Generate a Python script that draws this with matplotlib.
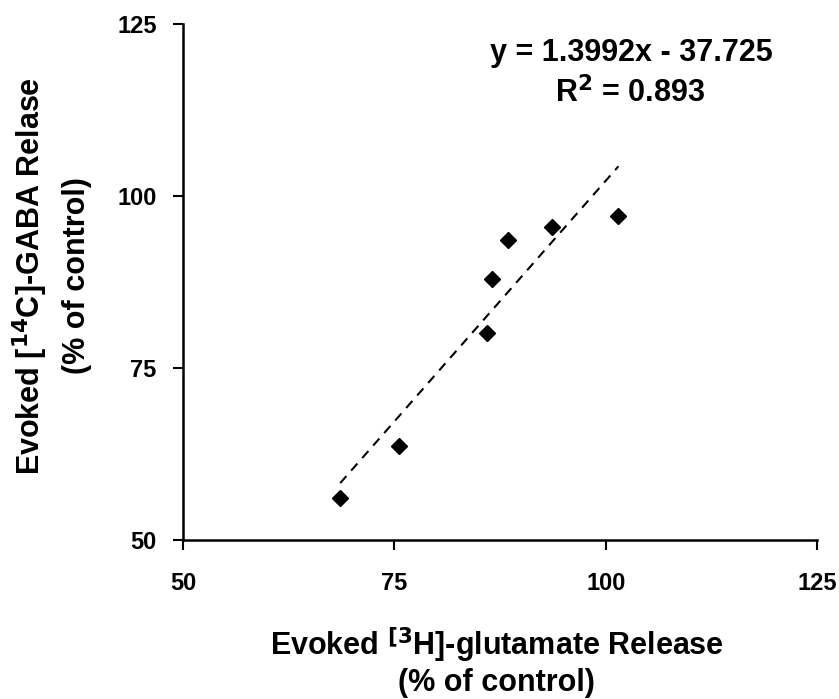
import numpy as np
import matplotlib.pyplot as plt

# evoked release, % of control
glutamate = [68.6, 75.6, 85.9, 86.6, 88.4, 93.6, 101.5]
gaba = [56.1, 63.6, 80.1, 87.9, 93.6, 95.4, 97.1]

slope = 1.3992
intercept = -37.725
r_squared = 0.893

xticks = [50, 75, 100, 125]
yticks = [50, 75, 100, 125]

plt.rcParams['font.family'] = ['Liberation Sans', 'DejaVu Sans']
plt.rcParams['font.weight'] = 'bold'

fig = plt.figure(figsize=(8.39, 6.99), dpi=100)
ax = fig.add_axes([0.218, 0.2275, 0.756, 0.7385])

# trendline over the data range
xl = np.array([min(glutamate), max(glutamate)])
ax.plot(xl, slope * xl + intercept, color='black', linestyle=(0, (4.5, 3.5)), linewidth=1.5)
ax.plot(glutamate, gaba, linestyle='none', marker='D', markersize=8.5, color='black')

ax.set_xlim(50, 125)
ax.set_ylim(50, 125)
ax.set_xticks(xticks)
ax.set_yticks(yticks)
ax.tick_params(direction='out', length=7, width=1.5, labelsize=17)
ax.tick_params(axis='x', pad=16)
ax.tick_params(axis='y', pad=12)
for lab in ax.get_xticklabels() + ax.get_yticklabels():
    lab.set_fontweight('bold')
for side in ['top', 'right']:
    ax.spines[side].set_visible(False)
for side in ['left', 'bottom']:
    ax.spines[side].set_linewidth(1.8)

fig.text(0.592, 1 - 645 / 699, r'Evoked $^{[3}$H]-glutamate Release', ha='center', va='center',
         fontsize=22, fontweight='bold')
fig.text(0.592, 1 - 683 / 699, '(% of control)', ha='center', va='center',
         fontsize=22, fontweight='bold')
fig.text(30 / 839, 1 - 276 / 699, r'Evoked [$^{14}$C]-GABA Relase', ha='center', va='center',
         rotation=90, fontsize=22, fontweight='bold')
fig.text(77 / 839, 1 - 276 / 699, '(% of control)', ha='center', va='center',
         rotation=90, fontsize=22, fontweight='bold')

fig.text(631 / 839, 1 - 53 / 699, 'y = 1.3992x - 37.725', ha='center', va='center',
         fontsize=22, fontweight='bold')
fig.text(630 / 839, 1 - 93 / 699, r'R$^2$ = %.3f' % r_squared, ha='center', va='center',
         fontsize=22, fontweight='bold')

fig.savefig('out.png', dpi=100)
